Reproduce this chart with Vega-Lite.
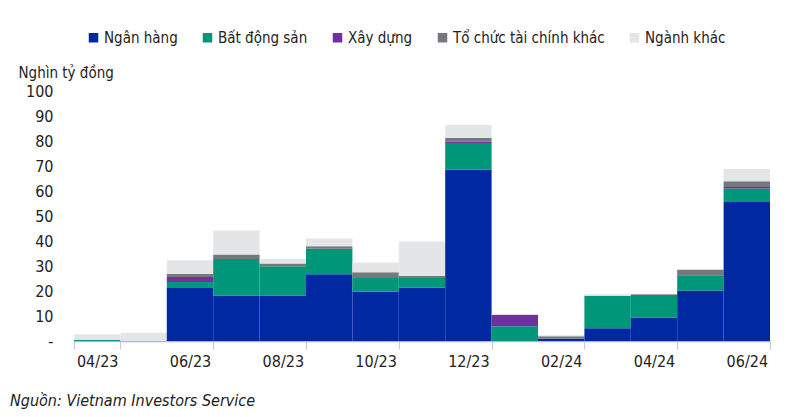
{
  "$schema": "https://vega.github.io/schema/vega-lite/v6.json",
  "width": 696,
  "height": 250,
  "autosize": {"type": "none"},
  "padding": {"left": 74, "top": 91, "right": 42, "bottom": 76},
  "background": "white",
  "title": {
    "text": "Nguồn: Vietnam Investors Service",
    "orient": "bottom",
    "anchor": "start",
    "frame": "group",
    "dx": -64,
    "offset": 24,
    "font": "'DejaVu Sans Condensed', 'Liberation Sans'",
    "fontSize": 16,
    "fontStyle": "italic",
    "fontWeight": "normal",
    "color": "#222222"
  },
  "config": {
    "view": {"stroke": null},
    "font": "'DejaVu Sans Condensed', 'Liberation Sans'"
  },
  "data": {
    "values": [
      {"m": "04/23", "s": "Bất động sản", "v": 0.5},
      {"m": "04/23", "s": "Ngành khác", "v": 2.2},
      {"m": "05/23", "s": "Ngành khác", "v": 3.3},
      {"m": "06/23", "s": "Ngân hàng", "v": 21.2},
      {"m": "06/23", "s": "Bất động sản", "v": 2.4},
      {"m": "06/23", "s": "Xây dựng", "v": 2.0},
      {"m": "06/23", "s": "Tổ chức tài chính khác", "v": 1.2},
      {"m": "06/23", "s": "Ngành khác", "v": 5.5},
      {"m": "07/23", "s": "Ngân hàng", "v": 18.2},
      {"m": "07/23", "s": "Bất động sản", "v": 14.6},
      {"m": "07/23", "s": "Tổ chức tài chính khác", "v": 1.8},
      {"m": "07/23", "s": "Ngành khác", "v": 9.6},
      {"m": "08/23", "s": "Ngân hàng", "v": 18.2},
      {"m": "08/23", "s": "Bất động sản", "v": 11.7},
      {"m": "08/23", "s": "Tổ chức tài chính khác", "v": 1.1},
      {"m": "08/23", "s": "Ngành khác", "v": 1.8},
      {"m": "09/23", "s": "Ngân hàng", "v": 26.7},
      {"m": "09/23", "s": "Bất động sản", "v": 10.2},
      {"m": "09/23", "s": "Tổ chức tài chính khác", "v": 1.0},
      {"m": "09/23", "s": "Ngành khác", "v": 3.1},
      {"m": "10/23", "s": "Ngân hàng", "v": 19.8},
      {"m": "10/23", "s": "Bất động sản", "v": 5.4},
      {"m": "10/23", "s": "Tổ chức tài chính khác", "v": 2.3},
      {"m": "10/23", "s": "Ngành khác", "v": 3.9},
      {"m": "11/23", "s": "Ngân hàng", "v": 21.4},
      {"m": "11/23", "s": "Bất động sản", "v": 3.8},
      {"m": "11/23", "s": "Tổ chức tài chính khác", "v": 0.9},
      {"m": "11/23", "s": "Ngành khác", "v": 13.7},
      {"m": "12/23", "s": "Ngân hàng", "v": 68.5},
      {"m": "12/23", "s": "Bất động sản", "v": 10.7},
      {"m": "12/23", "s": "Xây dựng", "v": 0.5},
      {"m": "12/23", "s": "Tổ chức tài chính khác", "v": 1.5},
      {"m": "12/23", "s": "Ngành khác", "v": 5.2},
      {"m": "01/24", "s": "Bất động sản", "v": 5.9},
      {"m": "01/24", "s": "Xây dựng", "v": 4.6},
      {"m": "01/24", "s": "Ngành khác", "v": 0.3},
      {"m": "02/24", "s": "Ngân hàng", "v": 0.9},
      {"m": "02/24", "s": "Tổ chức tài chính khác", "v": 1.0},
      {"m": "02/24", "s": "Ngành khác", "v": 0.4},
      {"m": "03/24", "s": "Ngân hàng", "v": 5.1},
      {"m": "03/24", "s": "Bất động sản", "v": 13.0},
      {"m": "03/24", "s": "Ngành khác", "v": 0.7},
      {"m": "04/24", "s": "Ngân hàng", "v": 9.4},
      {"m": "04/24", "s": "Bất động sản", "v": 9.0},
      {"m": "04/24", "s": "Tổ chức tài chính khác", "v": 0.3},
      {"m": "04/24", "s": "Ngành khác", "v": 0.2},
      {"m": "05/24", "s": "Ngân hàng", "v": 20.2},
      {"m": "05/24", "s": "Bất động sản", "v": 6.1},
      {"m": "05/24", "s": "Tổ chức tài chính khác", "v": 2.2},
      {"m": "06/24", "s": "Ngân hàng", "v": 55.6},
      {"m": "06/24", "s": "Bất động sản", "v": 5.4},
      {"m": "06/24", "s": "Xây dựng", "v": 0.6},
      {"m": "06/24", "s": "Tổ chức tài chính khác", "v": 2.3},
      {"m": "06/24", "s": "Ngành khác", "v": 4.9}
    ]
  },
  "transform": [
    {"calculate": "indexof(['Ngân hàng', 'Bất động sản', 'Xây dựng', 'Tổ chức tài chính khác', 'Ngành khác'], datum.s)", "as": "o"}
  ],
  "mark": {"type": "bar"},
  "encoding": {
    "x": {
      "field": "m",
      "type": "ordinal",
      "sort": null,
      "scale": {"paddingInner": 0, "paddingOuter": 0},
      "axis": {
        "title": null,
        "values": ["04/23", "06/23", "08/23", "10/23", "12/23", "02/24", "04/24", "06/24"],
        "labelAngle": 0,
        "labelFontSize": 16,
        "labelColor": "#222222",
        "labelPadding": 4,
        "tickBand": "extent",
        "tickSize": 8,
        "tickColor": "#c8c8c8",
        "domainColor": "#a9b9d8",
        "domainWidth": 1.5
      }
    },
    "y": {
      "field": "v",
      "type": "quantitative",
      "stack": "zero",
      "scale": {"domain": [0, 100], "nice": false},
      "axis": {
        "values": [0, 10, 20, 30, 40, 50, 60, 70, 80, 90, 100],
        "labelExpr": "datum.value == 0 ? '-\u00a0\u00a0\u00a0' : datum.label",
        "grid": false,
        "domain": false,
        "ticks": false,
        "labelPadding": 21,
        "labelFontSize": 16,
        "labelColor": "#222222",
        "title": "Nghìn tỷ đồng",
        "titleAngle": 0,
        "titleX": -56,
        "titleY": -19,
        "titleAlign": "left",
        "titleBaseline": "middle",
        "titleFontSize": 15,
        "titleFontWeight": "normal",
        "titleColor": "#222222"
      }
    },
    "order": {"field": "o", "type": "quantitative"},
    "color": {
      "field": "s",
      "type": "nominal",
      "sort": ["Ngân hàng", "Bất động sản", "Xây dựng", "Tổ chức tài chính khác", "Ngành khác"],
      "scale": {
        "domain": ["Ngân hàng", "Bất động sản", "Xây dựng", "Tổ chức tài chính khác", "Ngành khác"],
        "range": ["#0028a0", "#00967a", "#7030a0", "#77787b", "#e4e5e7"]
      },
      "legend": {
        "title": null,
        "orient": "none",
        "direction": "horizontal",
        "legendX": 12,
        "legendY": -61,
        "symbolType": "square",
        "symbolSize": 90,
        "symbolStrokeWidth": 0,
        "symbolOpacity": 1,
        "labelFontSize": 15,
        "labelLimit": 0,
        "labelColor": "#222222",
        "labelOffset": 3,
        "columnPadding": 22
      }
    }
  }
}
